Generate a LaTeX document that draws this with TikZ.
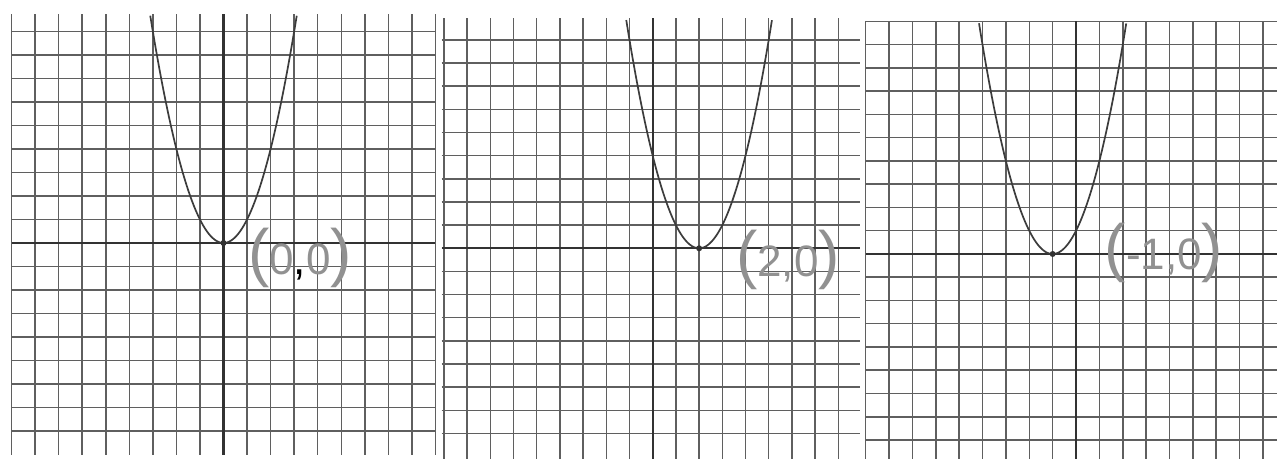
\documentclass[tikz,border=0pt]{standalone}
\usepackage{fontspec}
\setmainfont{Liberation Sans}
\definecolor{gridc}{RGB}{95,95,95}
\definecolor{axisc}{RGB}{50,50,50}
\definecolor{curvec}{RGB}{60,60,60}
\definecolor{pencil}{RGB}{145,145,145}
\tikzset{
  gridline/.style={gridc, line width=1.5pt},
  axisline/.style={axisc, line width=2.3pt},
  curveline/.style={curvec, line width=1.7pt},
  vertexdot/.style={circle, fill=axisc, inner sep=0pt, minimum size=6pt},
  pencillabel/.style={pencil, inner sep=0pt, font=\fontsize{44}{44}\selectfont},
}
\newcommand{\bigparen}[1]{{\fontsize{64}{64}\selectfont #1}}
\begin{document}
\begin{tikzpicture}
\fill[white] (0,0) rectangle (1277pt,458pt);
\useasboundingbox (0,0) rectangle (1277pt,458pt);
% ---------- panel 1 : vertex (0,0)
\begin{scope}[shift={(223.5pt,215pt)}, x=23.55pt, y=23.5pt]
  \foreach \i in {-9,...,9} \draw[gridline] (\i,-9.0) -- (\i,9.75);
  \foreach \i in {-8,...,9} \draw[gridline] (-9,\i) -- (9,\i);
  \draw[axisline] (-9,0) -- (9,0);
  \draw[axisline] (0,-9.0) -- (0,9.75);
  \draw[curveline] plot[domain=-3.11:3.11, samples=81, smooth] (\x,{\x*\x});
  \node[vertexdot] (v1) at (0,0) {};
\end{scope}
% ---------- panel 2 : vertex (2,0)
\begin{scope}[shift={(652.7pt,209.7pt)}, x=23.2pt, y=23.15pt]
  \foreach \i in {-9,...,8} \draw[gridline] (\i,-9.1) -- (\i,9.95);
  \foreach \i in {-8,...,9} \draw[gridline] (-9.1,\i) -- (8.94,\i);
  \draw[axisline] (-9.1,0) -- (8.94,0);
  \draw[axisline] (0,-9.1) -- (0,9.95);
  \draw[curveline] plot[domain=-1.14:5.14, samples=81, smooth] (\x,{(\x-2)*(\x-2)});
  \node[vertexdot] (v2) at (2,0) {};
\end{scope}
% ---------- panel 3 : vertex (-1,0)
\begin{scope}[shift={(1076pt,204pt)}, x=23.37pt, y=23.25pt]
  \foreach \i in {-9,...,8} \draw[gridline] (\i,-8.9) -- (\i,10);
  \foreach \i in {-8,...,10} \draw[gridline] (-9,\i) -- (9,\i);
  \draw[axisline] (-9,0) -- (9,0);
  \draw[axisline] (0,-8.9) -- (0,10);
  \draw[curveline] plot[domain=-4.15:2.15, samples=81, smooth] (\x,{(\x+1)*(\x+1)});
  \node[vertexdot] (v3) at (-1,0) {};
\end{scope}
% ---------- pencil labels
\node[pencillabel] (l1) at (300pt,200pt) {\bigparen{(}0{\color{black},}0\bigparen{)}};
\node[pencillabel] (l2) at (788pt,198pt) {\bigparen{(}2,0\bigparen{)}};
\node[pencillabel] (l3) at (1164pt,205pt) {\bigparen{(}-1,0\bigparen{)}};
\end{tikzpicture}
\end{document}
